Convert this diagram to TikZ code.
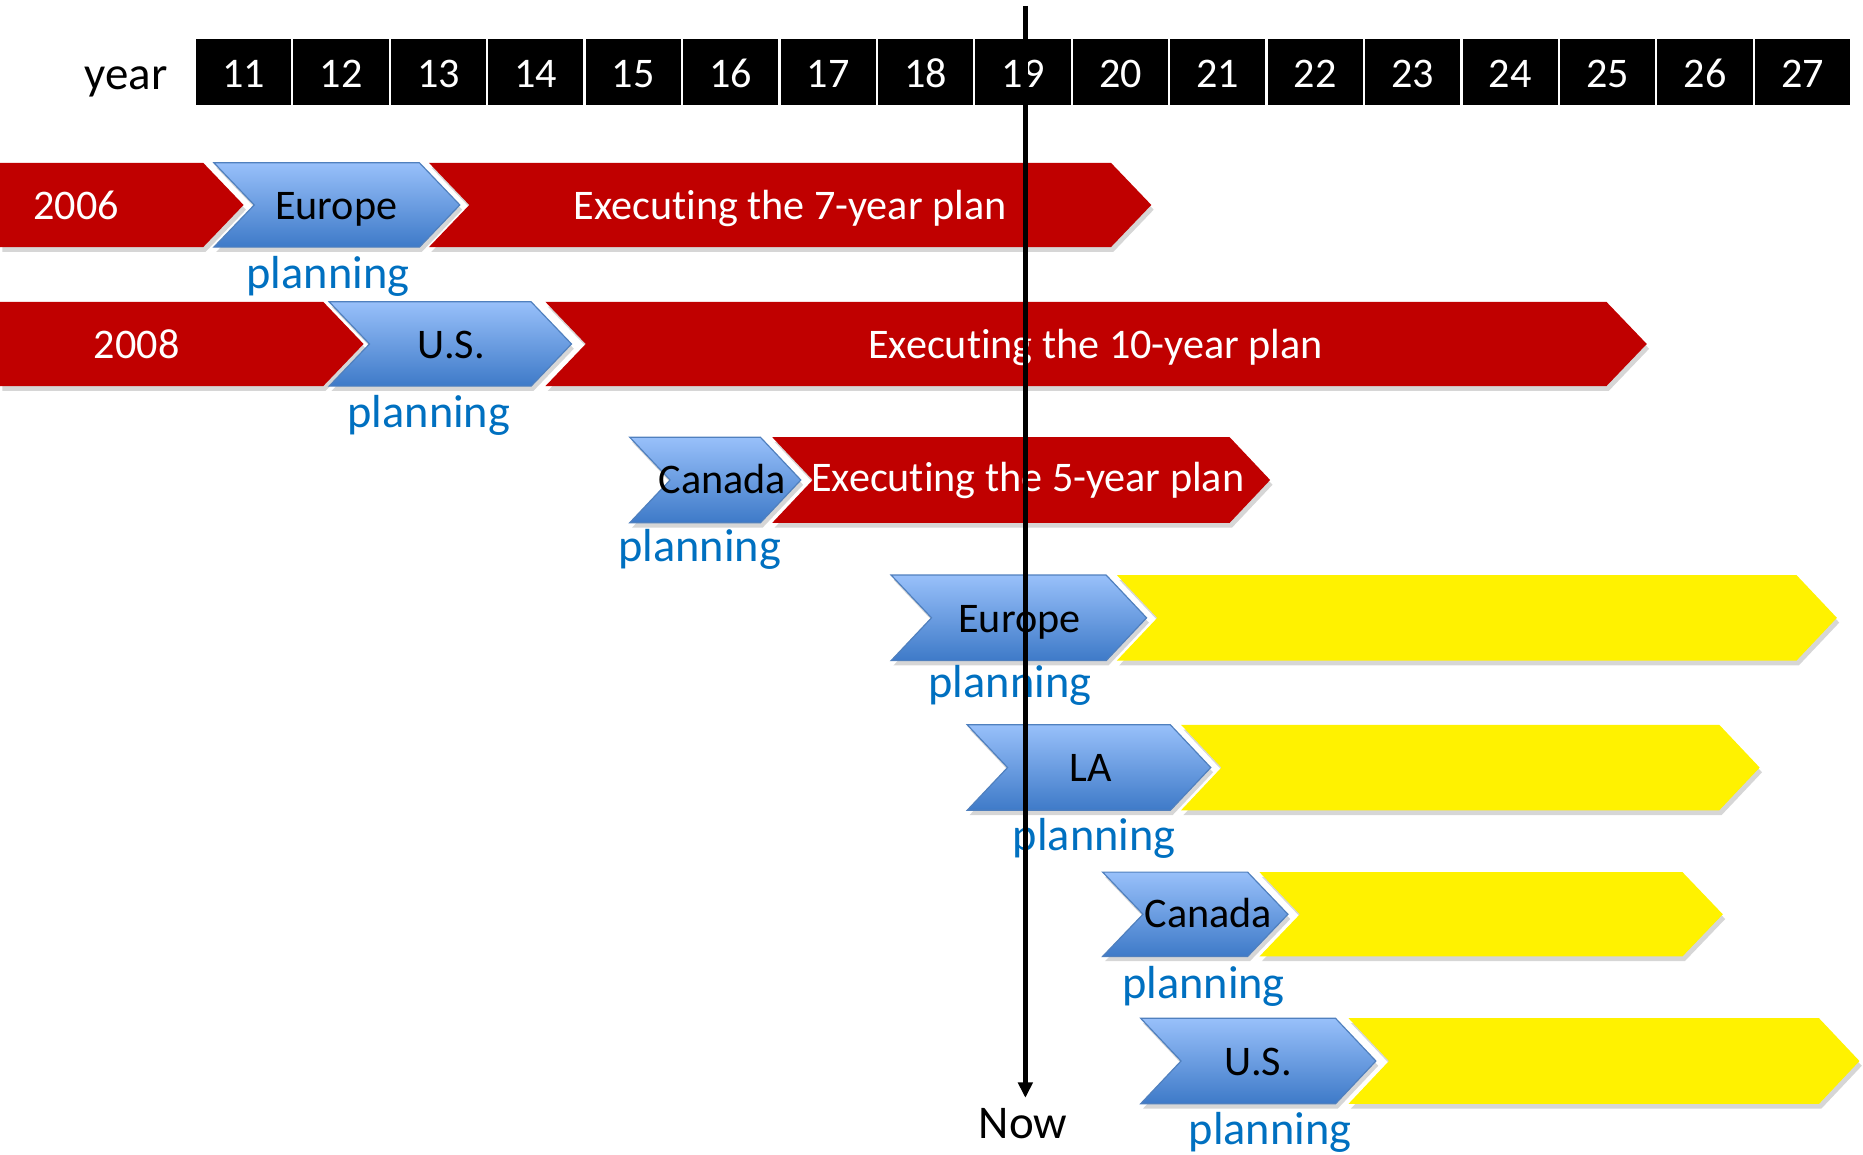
\documentclass[tikz,border=0pt]{standalone}
\usepackage{fontspec}
\setmainfont[Ligatures=NoCommon]{Carlito}
\usetikzlibrary{arrows.meta,shadows}
\definecolor{myred}{RGB}{192,0,0}
\definecolor{bluetop}{RGB}{152,192,250}
\definecolor{bluebot}{RGB}{62,122,200}
\definecolor{blueedge}{RGB}{80,128,190}
\definecolor{planblue}{RGB}{0,112,192}
\newcommand\mychev[5]{\path[#1] (#2,#4) -- (#3,#4) -- ({#3+34},{(#4+#5)/2}) -- (#3,#5) -- (#2,#5) -- ({#2+34},{(#4+#5)/2}) -- cycle;}
\newcommand\myflat[4]{\path[#1] (0,#3) -- (#2,#3) -- ({#2+34},{(#3+#4)/2}) -- (#2,#4) -- (0,#4) -- cycle;}
\begin{document}
\begin{tikzpicture}[x=1pt,y=-1pt,
  shd/.style={drop shadow={shadow xshift=2pt,shadow yshift=-4pt,fill=black,opacity=0.16}},
  redshape/.style={fill=myred,shd},
  blueshape/.style={top color=bluetop,bottom color=bluebot,draw=blueedge,line width=1pt,shd},
  yellowshape/.style={fill=yellow,shd},
  yearbox/.style={fill=black,text=white,minimum width=80pt,minimum height=55pt,inner sep=0pt,
    text height=27pt,text depth=0pt,font=\fontsize{35.5}{42}\selectfont},
  wtext/.style={text=white,inner sep=0pt,anchor=base,font=\fontsize{35.5}{42}\selectfont},
  btext/.style={text=black,inner sep=0pt,anchor=base,font=\fontsize{35.5}{42}\selectfont},
  plan/.style={text=planblue,inner sep=0pt,anchor=base,font=\fontsize{39}{46}\selectfont},
  big/.style={text=black,inner sep=0pt,anchor=base,font=\fontsize{39.5}{46}\selectfont}]
\useasboundingbox (0,0) rectangle (1568,972);
% year header
\node[big] (year) at (106,75) {year};
\foreach \n [count=\i from 0] in {11,...,27}
  \node[yearbox] (y\n) at ({205+82*\i},60.5) {\n};
% row 1
\myflat{redshape}{171}{137}{208}
\mychev{blueshape}{180}{353}{137}{208}
\mychev{redshape}{361}{935}{137}{208}
\node[wtext] (a1) at (64,185) {2006};
\node[btext] (b1) at (283,185) {Europe};
\node[wtext] (c1) at (665,185) {Executing the 7-year plan};
\node[plan] (p1) at (276,243) {planning};
% row 2
\myflat{redshape}{272}{254}{325}
\mychev{blueshape}{277}{447}{254}{325}
\mychev{redshape}{459}{1352}{254}{325}
\node[wtext] (a2) at (115,302) {2008};
\node[btext] (b2) at (380,302) {U.S.};
\node[wtext] (c2) at (922,302) {Executing the 10-year plan};
\node[plan] (p2) at (361,360) {planning};
% row 3
\mychev{blueshape}{530}{640}{368}{440}
\mychev{redshape}{650}{1035}{368}{440}
\node[btext] (b3) at (608,415) {Canada};
\node[wtext] (c3) at (865,414) {Executing the 5-year plan};
\node[plan] (p3) at (589,473) {planning};
% row 4
\mychev{blueshape}{750}{931}{484}{556}
\mychev{yellowshape}{940}{1512}{484}{556}
\node[btext] (b4) at (858,532) {Europe};
\node[plan] (p4) at (850,587) {planning};
% row 5
\mychev{blueshape}{814}{985}{610}{682}
\mychev{yellowshape}{994}{1447}{610}{682}
\node[btext] (b5) at (918,658) {LA};
\node[plan] (p5) at (921,716) {planning};
% row 6
\mychev{blueshape}{928}{1050}{734}{805}
\mychev{yellowshape}{1060}{1416}{734}{805}
\node[btext] (b6) at (1017,781) {Canada};
\node[plan] (p6) at (1013,840) {planning};
% row 7
\mychev{blueshape}{960}{1124}{857}{929}
\mychev{yellowshape}{1135}{1531}{857}{929}
\node[btext] (b7) at (1059,905) {U.S.};
\node[plan] (p7) at (1069,963) {planning};
% now line
\node[big] (now) at (861,958) {Now};
\coordinate (nowtop) at (863,5);
\coordinate (nowtip) at (863,924);
\draw[line width=4pt,-{Triangle[length=13pt,width=12pt]}] (nowtop) -- (nowtip);
\end{tikzpicture}
\end{document}
